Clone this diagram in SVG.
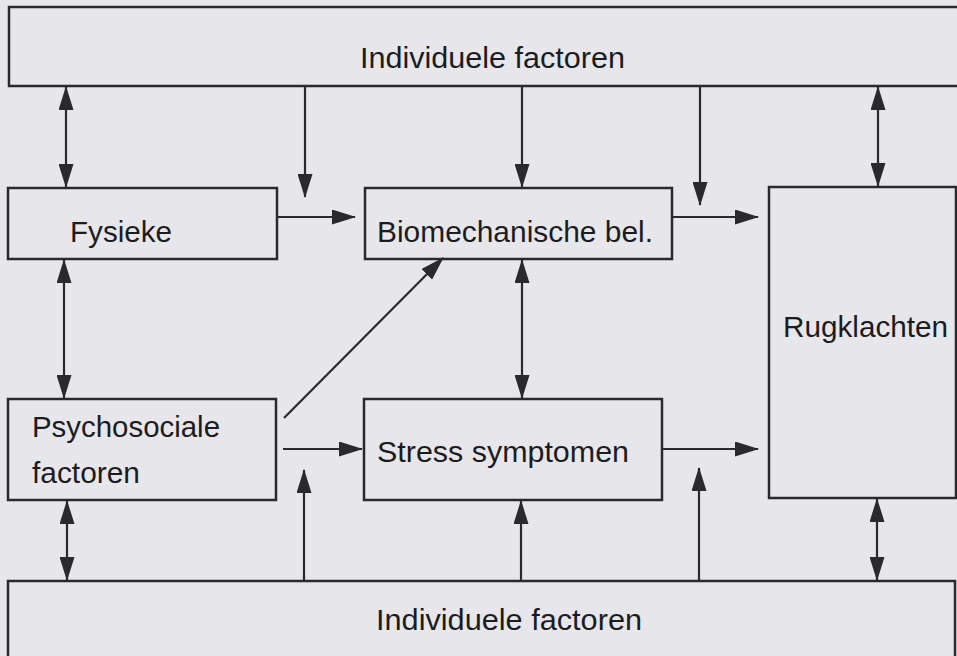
<svg xmlns="http://www.w3.org/2000/svg" width="957" height="656" viewBox="0 0 957 656">
  <style>
    .box { fill: none; stroke: #2a2a2c; stroke-width: 2.5; }
    .lbl { font-family: "Liberation Sans", Arial, sans-serif; font-size: 29px; fill: #1c1c1e; }
    .con { stroke: #2a2a2c; stroke-width: 2.2; fill: none; }
    .one { marker-end: url(#ah); }
    .two { marker-start: url(#ah); marker-end: url(#ah); }
  </style>
  <defs>
    <marker id="ah" markerUnits="userSpaceOnUse" viewBox="0 0 24 15" markerWidth="24" markerHeight="15" refX="23" refY="7.5" orient="auto-start-reverse">
      <path d="M0,0 L24,7.5 L0,15 Z" fill="#2a2a2c"/>
    </marker>
  </defs>
  <rect x="0" y="0" width="957" height="656" fill="#e7e7eb"/>

  <g id="top-individuele">
    <path class="box" d="M962,7 H9 V86 H962"/>
    <text class="lbl" x="360" y="68" textLength="265" lengthAdjust="spacingAndGlyphs">Individuele factoren</text>
  </g>
  <g id="fysieke">
    <rect class="box" x="8" y="188" width="269" height="71"/>
    <text class="lbl" x="70" y="242" textLength="102" lengthAdjust="spacingAndGlyphs">Fysieke</text>
  </g>
  <g id="biomechanische">
    <rect class="box" x="365" y="188" width="307" height="71"/>
    <text class="lbl" x="377" y="242" textLength="276" lengthAdjust="spacingAndGlyphs">Biomechanische bel.</text>
  </g>
  <g id="rugklachten">
    <rect class="box" x="769" y="187" width="187" height="311"/>
    <text class="lbl" x="783" y="337" textLength="165" lengthAdjust="spacingAndGlyphs">Rugklachten</text>
  </g>
  <g id="psychosociale">
    <rect class="box" x="8" y="399" width="268" height="101"/>
    <text class="lbl" x="32" y="437" textLength="188" lengthAdjust="spacingAndGlyphs">Psychosociale</text>
    <text class="lbl" x="32" y="483" textLength="108" lengthAdjust="spacingAndGlyphs">factoren</text>
  </g>
  <g id="stress">
    <rect class="box" x="364" y="399" width="298" height="101"/>
    <text class="lbl" x="377" y="462" textLength="252" lengthAdjust="spacingAndGlyphs">Stress symptomen</text>
  </g>
  <g id="bottom-individuele">
    <path class="box" d="M8,662 V581 H955 V662"/>
    <text class="lbl" x="376" y="630" textLength="266" lengthAdjust="spacingAndGlyphs">Individuele factoren</text>
  </g>

  <g id="connectors">
    <line class="con two" x1="66" y1="87" x2="66" y2="187"/>
    <line class="con one" x1="305" y1="87" x2="305" y2="197"/>
    <line class="con one" x1="522" y1="87" x2="522" y2="187"/>
    <line class="con one" x1="700" y1="87" x2="700" y2="205"/>
    <line class="con two" x1="878" y1="87" x2="878" y2="186"/>
    <line class="con one" x1="277" y1="217" x2="355" y2="217"/>
    <line class="con one" x1="672" y1="217" x2="758" y2="217"/>
    <line class="con two" x1="64" y1="260" x2="64" y2="398"/>
    <line class="con one" x1="284" y1="418" x2="443" y2="258"/>
    <line class="con two" x1="522" y1="260" x2="522" y2="398"/>
    <line class="con one" x1="283" y1="449" x2="362" y2="449"/>
    <line class="con one" x1="662" y1="449" x2="758" y2="449"/>
    <line class="con two" x1="67" y1="501" x2="67" y2="580"/>
    <line class="con one" x1="304" y1="580" x2="304" y2="470"/>
    <line class="con one" x1="521" y1="580" x2="521" y2="501"/>
    <line class="con one" x1="699" y1="580" x2="699" y2="468"/>
    <line class="con two" x1="877" y1="499" x2="877" y2="580"/>
  </g>
</svg>
